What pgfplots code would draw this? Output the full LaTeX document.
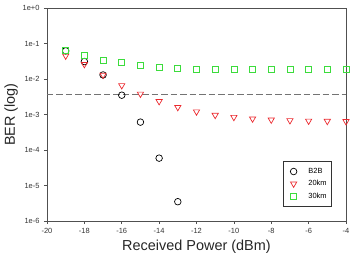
\documentclass[border=0pt]{standalone}
\usepackage{pgfplots}
\pgfplotsset{compat=1.18}
\usepackage{fontspec}
\setmainfont{Liberation Sans}
\definecolor{rd}{RGB}{235,40,45}
\definecolor{gr}{RGB}{60,220,60}
\definecolor{ax}{RGB}{80,80,80}
\pgfplotsset{lm/.style={legend image code/.code={\path[draw=none,fill=none] (0.05cm,0cm) rectangle (0.75cm,0cm);\path plot coordinates {(0.3cm,0cm)};}}}
\begin{document}
\begin{tikzpicture}
\begin{axis}[
  scale only axis, width=299bp, height=213bp,
  ymode=log, xmin=-20, xmax=-4, ymin=1e-6, ymax=1,
  axis line style={ax, line width=0.7pt},
  xtick={-20,-18,...,-4},
  xticklabels={-20,-18,-16,-14,-12,-10,-8,-6,-4},
  ytick={1,1e-1,1e-2,1e-3,1e-4,1e-5,1e-6},
  yticklabels={1e+0,1e-1,1e-2,1e-3,1e-4,1e-5,1e-6},
  yminorticks=false,
  xtick pos=bottom, ytick pos=left, tick align=outside,
  major tick length=3bp,
  tick style={ax, line width=0.6pt},
  ticklabel style={font=\fontsize{7.5}{9}\selectfont, text=black!80},
  xticklabel style={yshift=-1bp},
  yticklabel style={xshift=-1bp},
  xlabel={Received Power (dBm)}, ylabel={BER (log)},
  label style={font=\fontsize{14.5}{16}\selectfont, text=black!85},
  xlabel style={yshift=1bp},
  ylabel style={yshift=-2bp},
  legend style={at={(rel axis cs:0.953,0.066)}, anchor=south east,
    font=\fontsize{7.5}{9}\selectfont, draw=black!80, line width=0.6pt,
    inner xsep=3bp, inner ysep=5bp, row sep=1.5bp,
    cells={anchor=west}},
  legend cell align=left,
  clip=false,
]
\coordinate (bl) at (rel axis cs:0,0);
\coordinate (tr) at (rel axis cs:1,1);
\addplot[only marks, lm, mark=o, mark size=3.3bp, black, line width=0.7pt] coordinates {
(-19,6.2e-2) (-18,3.1e-2) (-17,1.3e-2) (-16,3.5e-3) (-15,6.1e-4) (-14,5.9e-5) (-13,3.5e-6)};
\addplot[only marks, lm, mark=triangle, mark options={rotate=180}, mark size=3.6bp, rd, line width=0.7pt] coordinates {
(-19,4.5e-2) (-18,2.6e-2) (-17,1.3e-2) (-16,6.6e-3) (-15,3.8e-3) (-14,2.35e-3) (-13,1.6e-3)
(-12,1.2e-3) (-11,9.6e-4) (-10,8.4e-4) (-9,7.6e-4) (-8,7.1e-4) (-7,6.8e-4) (-6,6.6e-4) (-5,6.5e-4) (-4,6.4e-4)};
\addplot[only marks, lm, mark=square, mark size=3bp, gr, line width=0.7pt] coordinates {
(-19,6.4e-2) (-18,4.5e-2) (-17,3.4e-2) (-16,2.9e-2) (-15,2.4e-2) (-14,2.15e-2) (-13,2.0e-2)
(-12,1.9e-2) (-11,1.85e-2) (-10,1.85e-2) (-9,1.85e-2) (-8,1.85e-2) (-7,1.85e-2) (-6,1.85e-2) (-5,1.85e-2) (-4,1.85e-2)};
\addplot[forget plot, ax!80, dashed, dash pattern=on 6.5bp off 3bp, line width=0.8pt] coordinates {(-20,3.8e-3) (-4,3.8e-3)};
\legend{B2B,20km,30km}
\end{axis}
\pgfresetboundingbox
\path ([shift={(-47bp,-39bp)}]bl) rectangle ([shift={(8bp,8bp)}]tr);
\end{tikzpicture}
\end{document}
